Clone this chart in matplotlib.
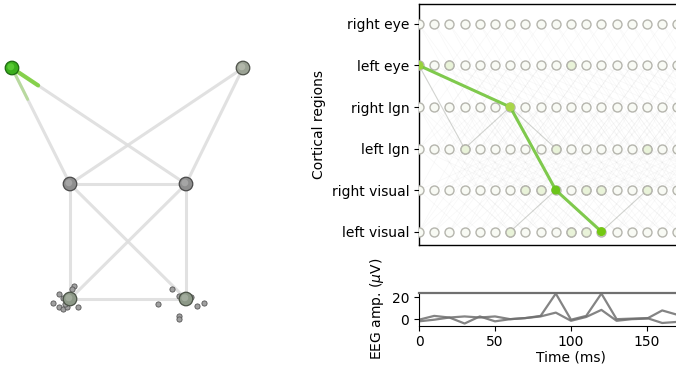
import numpy as np
import matplotlib
matplotlib.use("Agg")
import matplotlib.pyplot as plt

# ---------------- data ----------------
regions = ["left visual", "right visual", "left lgn", "right lgn", "left eye", "right eye"]
times = list(range(0, 260, 10))

# highlighted propagation path: (time ms, region index)
path_times = [0, 60, 90, 120]
path_regions = [4, 3, 1, 0]
path_colors = ["#98d23c", "#a9d64a", "#6cc51a", "#74c812"]

# lightly active nodes (time, region)
active_times = [30, 90, 70, 80, 110, 120, 150, 60, 100, 110, 100, 20, 150]
active_regions = [2, 2, 1, 1, 1, 1, 1, 0, 0, 0, 4, 4, 2]

# connectivity between regions with conduction delay (ms)
conn_src = [4, 4, 5, 5, 2, 3, 2, 3, 2, 3, 1, 0, 3, 2, 1, 0, 0, 1]
conn_dst = [2, 3, 2, 3, 3, 2, 0, 1, 1, 0, 0, 1, 5, 4, 3, 2, 3, 2]
conn_delay = [30, 60, 60, 30, 30, 30, 60, 30, 60, 60, 30, 30, 40, 40, 30, 30, 60, 60]

# secondary (weaker) propagation segments
sec_t0 = [0, 30, 60, 60, 120]
sec_r0 = [4, 2, 3, 0, 0]
sec_t1 = [30, 60, 90, 90, 150]
sec_r1 = [2, 3, 2, 1, 1]

# EEG traces
eeg_t = [0, 10, 20, 30, 40, 50, 60, 70, 80, 90, 100, 110, 120, 130, 140, 150, 160, 170, 180]
eeg_a = [-2.0, -0.5, 1.5, 2.5, 1.5, 2.5, 0.0, 1.0, 3.0, 23.5, -0.5, 3.0, 23.5, 0.0, 0.5, 1.0, -3.5, -2.5, -1.0]
eeg_b = [-0.5, 3.0, 1.5, -4.0, 2.5, -2.0, 0.0, 1.0, 2.5, 6.0, -1.5, 2.0, 8.5, -1.5, 0.0, 0.5, 8.0, 4.0, 2.0]

# anatomical network (positions in canvas units)
node_x = [12, 243, 70, 186, 70, 186]
node_y = [68, 68, 184, 184, 299, 299]
node_face = ["#3aae1c", "#9ba294", "#8e8e8e", "#8e8e8e", "#8d9988", "#8d9988"]
node_edge = ["#1d6a10", "#4e524a", "#4a4a4a", "#4a4a4a", "#4a5246", "#4a5246"]
edge_a = [0, 0, 1, 1, 2, 2, 2, 3, 3, 4]
edge_b = [2, 3, 2, 3, 3, 4, 5, 4, 5, 5]
# partial green activity along edges from node 0
act_edge_dst = [3, 2]
act_edge_frac = [0.15, 0.27]
act_edge_alpha = [0.9, 0.4]
act_edge_lw = [3.0, 2.2]

small_x = [74.3, 71.7, 59.3, 62.7, 52.7, 59.3, 63.3, 66.7, 78.3, 64.5,
           172.3, 158.3, 179.0, 190.7, 196.7, 204.0, 179.0, 179.0, 182.0]
small_y = [285.7, 289.3, 294.0, 298.3, 302.7, 306.7, 309.3, 306.7, 306.7, 304.0,
           289.0, 304.3, 296.0, 296.7, 305.7, 302.7, 316.0, 319.3, 296.0]

# ---------------- figure ----------------
W, H = 676, 374
fig = plt.figure(figsize=(W / 100, H / 100), dpi=100)
plt.rcParams['font.family'] = ['DejaVu Sans']

# ---- left: anatomical network ----
axn = fig.add_axes([0, 0, 300 / W, 1])
axn.set_xlim(0, 300)
axn.set_ylim(H, 0)
axn.axis("off")
for a, b in zip(edge_a, edge_b):
    axn.plot([node_x[a], node_x[b]], [node_y[a], node_y[b]], color="#dedede",
             lw=2.2, alpha=0.9, solid_capstyle="round", zorder=1)
for d, f, al, lw in zip(act_edge_dst, act_edge_frac, act_edge_alpha, act_edge_lw):
    x1 = node_x[0] + f * (node_x[d] - node_x[0])
    y1 = node_y[0] + f * (node_y[d] - node_y[0])
    axn.plot([node_x[0], x1], [node_y[0], y1], color="#7ccf3c", lw=lw,
             alpha=al, solid_capstyle="round", zorder=2)
axn.scatter(small_x, small_y, s=14, c="#a0a0a0", edgecolors="#555555",
            linewidths=0.6, zorder=3)
axn.scatter(node_x, node_y, s=95, c=node_face, edgecolors=node_edge,
            linewidths=0.9, zorder=4)
# highlight for sphere look
hx = [x - 1.2 for x in node_x]
hy = [y - 1.2 for y in node_y]
hl = ["#5fd03a", "#b8bdb0", "#ababab", "#ababab", "#a8b2a3", "#a8b2a3"]
axn.scatter(hx, hy, s=25, c=hl, edgecolors="none", alpha=0.8, zorder=5)

# ---- right top: time-expanded graph ----
px_per_ms = 1.52
x0 = 419
ax_w = 200 * px_per_ms
ax = fig.add_axes([x0 / W, (H - 244.5) / H, ax_w / W, 240.5 / H])
ax.set_xlim(0, 200)
ax.set_ylim(-0.31, 5.48)

for s, d, dl in zip(conn_src, conn_dst, conn_delay):
    for t in times:
        if t + dl <= times[-1]:
            ax.plot([t, t + dl], [s, d], color="#a0a0a0", lw=0.5, alpha=0.08, zorder=1)
for t0, r0, t1, r1 in zip(sec_t0, sec_r0, sec_t1, sec_r1):
    ax.plot([t0, t1], [r0, r1], color="#8a8f85", lw=0.8, alpha=0.35, zorder=2)

TT, RR = np.meshgrid(times, range(len(regions)))
ax.scatter(TT.ravel(), RR.ravel(), s=42, facecolors="#f8faf4", edgecolors="#b5b5ad",
           linewidths=1.0, zorder=3)
ax.scatter(active_times, active_regions, s=42, facecolors="#e9f3d9", edgecolors="#b5b5ad",
           linewidths=1.0, zorder=4)
ax.plot(path_times, path_regions, color="#72c43a", lw=2.2, alpha=0.9, zorder=5,
        solid_capstyle="round")
ax.scatter(path_times, path_regions, s=42, c=path_colors, edgecolors="none", zorder=6)

ax.set_yticks(range(len(regions)))
ax.set_yticklabels(regions, fontsize=10)
ax.set_xticks([])
ax.set_ylabel("Cortical regions", fontsize=10)
for sp in ax.spines.values():
    sp.set_linewidth(1.0)

# ---- right bottom: EEG ----
axe = fig.add_axes([x0 / W, (H - 325.7) / H, ax_w / W, 32.7 / H])
axe.plot(eeg_t, eeg_a, color="#6e6e6e", lw=1.6, alpha=0.85)
axe.plot(eeg_t, eeg_b, color="#6e6e6e", lw=1.6, alpha=0.85)
axe.set_xlim(0, 200)
axe.set_ylim(-6, 24)
axe.set_yticks([0, 20])
axe.set_xticks([0, 50, 100, 150])
axe.tick_params(labelsize=10)
axe.spines["top"].set_color("#707070")
axe.spines["top"].set_linewidth(1.6)
axe.set_xlabel("Time (ms)", fontsize=10, labelpad=1)
axe.set_ylabel(r"EEG amp. ($\mu$V)", fontsize=10)

fig.savefig("out.png", dpi=100)
